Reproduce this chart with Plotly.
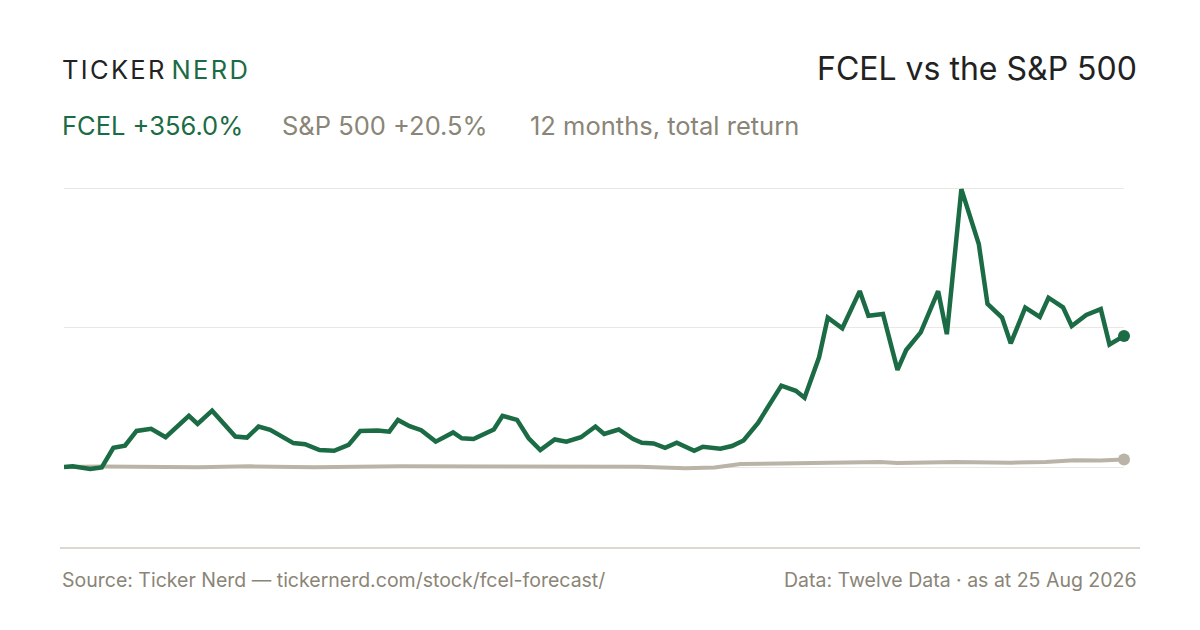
import datetime as dt

import plotly.graph_objects as go

# ===== DATA =====
start_date = dt.date(2025, 8, 25)

# FCEL total return (%), days since start
fcel_days = [0, 3, 9, 13, 17, 21, 25, 30, 35, 43, 46, 51, 59, 63, 67, 71, 79, 83, 88, 93,
             98, 102, 108, 112, 115, 119, 123, 128, 134, 137, 141, 148, 151, 156, 160, 164,
             169, 173, 178, 183, 186, 191, 196, 199, 203, 207, 211, 217, 220, 226, 230, 234,
             239, 243, 247, 252, 255, 260, 263, 268, 274, 277, 282, 287, 290, 295, 301, 304,
             309, 315, 318, 323, 326, 331, 336, 339, 344, 347, 352, 357, 360, 365]
fcel_ret = [0, 2, -5, -1, 52, 58, 98, 104, 81, 139, 117, 153, 83, 80, 110, 101, 65, 62, 46, 44,
            60, 98, 99, 96, 128, 111, 100, 69, 94, 78, 76, 102, 139, 128, 78, 46,
            75, 69, 81, 110, 90, 102, 76, 66, 64, 52, 66, 44, 55, 50, 57, 72,
            120, 169, 221, 207, 188, 298, 406, 377, 478, 411, 416, 264, 318, 366, 478, 361,
            755, 606, 443, 406, 336, 433, 408, 460, 434, 383, 413, 429, 333, 356.0]

# S&P 500 total return (%)
spx_days = [0, 13, 46, 64, 86, 116, 150, 181, 198, 214, 224, 233, 253, 281, 287, 307, 326,
            338, 348, 357, 365]
spx_ret = [0, 1.4, -0.5, 1.9, -0.8, 1.9, 1.6, 1.9, 0.5, -3.5, -1.4, 8.2, 9.5, 13.6, 10.9,
           13.6, 11.7, 13.6, 18.2, 17.7, 20.5]

grid_vals = [0, 378, 758]

GREEN = '#1b6b45'
SAND = '#bab4a8'
MUTED = '#8a8577'
INK = '#222222'
FONT = 'Inter'

fcel_x = [start_date + dt.timedelta(days=d) for d in fcel_days]
spx_x = [start_date + dt.timedelta(days=d) for d in spx_days]

fig = go.Figure()

fig.add_trace(go.Scatter(x=spx_x, y=spx_ret, mode='lines', cliponaxis=False,
                         line=dict(color=SAND, width=4), hoverinfo='skip'))
fig.add_trace(go.Scatter(x=fcel_x, y=fcel_ret, mode='lines', cliponaxis=False,
                         line=dict(color=GREEN, width=4.5), hoverinfo='skip'))
# end dots
fig.add_trace(go.Scatter(x=[spx_x[-1]], y=[spx_ret[-1]], mode='markers', cliponaxis=False,
                         marker=dict(color=SAND, size=12), hoverinfo='skip'))
fig.add_trace(go.Scatter(x=[fcel_x[-1]], y=[fcel_ret[-1]], mode='markers', cliponaxis=False,
                         marker=dict(color=GREEN, size=12), hoverinfo='skip'))

# page sits 8px in from the window edge
OFF = 8
fig.update_layout(
    width=1200, height=630,
    margin=dict(l=64 - OFF, r=1200 - 1124 + OFF, t=170 - OFF, b=630 - 548 + OFF),
    paper_bgcolor='white', plot_bgcolor='white',
    showlegend=False,
    font=dict(family=FONT, color=INK),
    xaxis=dict(range=[fcel_x[0], fcel_x[-1]], showgrid=False, zeroline=False,
               showticklabels=False, showline=False, ticks=''),
    yaxis=dict(range=[-220, 807], tickvals=grid_vals, showticklabels=False,
               showgrid=True, gridcolor='#ebe8e2', gridwidth=1, zeroline=False,
               showline=False, ticks=''),
)

# bottom rule
fig.add_shape(type='line', xref='paper', yref='paper', x0=-0.0038, x1=1.0151, y0=0, y1=0,
              line=dict(color='#dcd8ce', width=2))

hs = '\u200a'
brand_dark = hs.join('TICKER')
brand_green = hs.join('NERD')

ann = [
    dict(text=f'<span style="color:{INK}">{brand_dark}</span> <span style="color:{GREEN}">{brand_green}</span>',
         x=60, y=70, size=25.5, anchor='left'),
    dict(text='FCEL vs the S&P 500', x=1139, y=68, size=32, anchor='right', color=INK),
    dict(text=f'<span style="color:{GREEN}">FCEL +356.0%</span>', x=60, y=125, size=25.5, anchor='left'),
    dict(text='S&P 500 +20.5%', x=280, y=125, size=25.5, anchor='left', color=MUTED),
    dict(text='12 months, total return', x=528, y=125, size=25.5, anchor='left', color=MUTED),
    dict(text='Source: Ticker Nerd \u2014 tickernerd.com/stock/fcel-forecast/', x=60, y=580,
         size=19.5, anchor='left', color=MUTED),
    dict(text='Data: Twelve Data \u00b7 as at 25 Aug 2026', x=1139, y=580, size=19.5,
         anchor='right', color=MUTED),
]
for a in ann:
    fig.add_annotation(
        text=a['text'], xref='paper', yref='paper',
        x=(a['x'] - 64) / 1060, y=(548 - a['y']) / 378,
        xanchor=a['anchor'], yanchor='middle', showarrow=False,
        font=dict(family=FONT, size=a['size'], color=a.get('color', INK)),
    )

fig.write_html('out.html')
